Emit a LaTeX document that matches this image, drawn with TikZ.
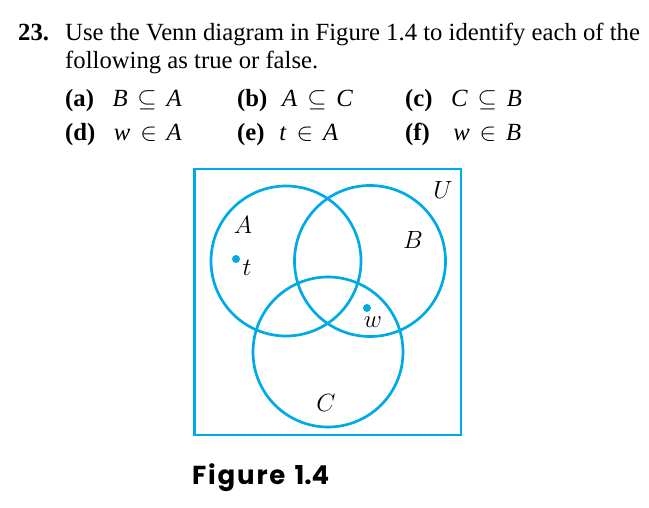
\documentclass[tikz,border=0pt]{standalone}
\usepackage{fontspec}
\setmainfont{Liberation Serif}
\newfontfamily\capfont{Poppins}
\definecolor{venn}{RGB}{0,170,230}
\newcommand{\vv}[1]{\textit{#1}}
\newcommand{\rel}[1]{\hspace{0.4em}$#1$\hspace{0.4em}}
\tikzset{
  settxt/.style={anchor=base west, inner sep=0pt, font=\fontsize{24.7}{28}\selectfont},
  vcirc/.style={draw=venn, line width=2.7pt},
  elt/.style={fill=venn, circle, inner sep=0pt, minimum size=8pt},
  lbl/.style={inner sep=0pt, font=\fontsize{23}{26}\selectfont}
}
\begin{document}
\begin{tikzpicture}[x=1pt,y=-1pt]
\useasboundingbox (0,0) rectangle (649,508);
% question text
\node[settxt] (num) at (18,41) {\textbf{23.}};
\node[settxt] (l1) at (65,41) {Use the Venn diagram in Figure 1.4 to identify each of the};
\node[settxt] (l2) at (65,69) {following as true or false.};
\node[settxt] (qa) at (65,107) {\textbf{(a)}\hspace{0.75em}\vv{B}\rel{\subseteq}\vv{A}};
\node[settxt] (qb) at (237,107) {\textbf{(b)}\hspace{0.6em}\vv{A}\rel{\subseteq}\vv{C}};
\node[settxt] (qc) at (405,107) {\textbf{(c)}\hspace{0.75em}\vv{C}\rel{\subseteq}\vv{B}};
\node[settxt] (qd) at (65,141) {\textbf{(d)}\hspace{0.75em}\vv{w}\rel{\in}\vv{A}};
\node[settxt] (qe) at (237,141) {\textbf{(e)}\hspace{0.6em}\vv{t}\rel{\in}\vv{A}};
\node[settxt] (qf) at (405,141) {\textbf{(f)}\hspace{0.95em}\vv{w}\rel{\in}\vv{B}};
% Venn diagram
\draw[draw=venn, line width=2.7pt] (194.5,169) rectangle (461,435);
\draw[vcirc] (286,261) circle (75);
\draw[vcirc] (370,261) circle (75.5);
\draw[vcirc] (328,352) circle (75);
\node[elt] (t) at (236,259) {};
\node[elt] (w) at (367,308) {};
\node[lbl] (tl) at (247,268) {$t$};
\node[lbl] (wl) at (373,322) {$w$};
\node[lbl] (A) at (243,225) {$A$};
\node[lbl] (B) at (413,240) {$B$};
\node[lbl] (C) at (326,403) {$C$};
\node[lbl] (U) at (443,190) {$U$};
% caption
\node[anchor=base west, inner sep=0pt, font=\capfont\bfseries\fontsize{26}{30}\selectfont] (cap) at (192,484) {{\addfontfeatures{LetterSpace=7}Figure}\hspace{9pt}1.4};
\end{tikzpicture}
\end{document}
